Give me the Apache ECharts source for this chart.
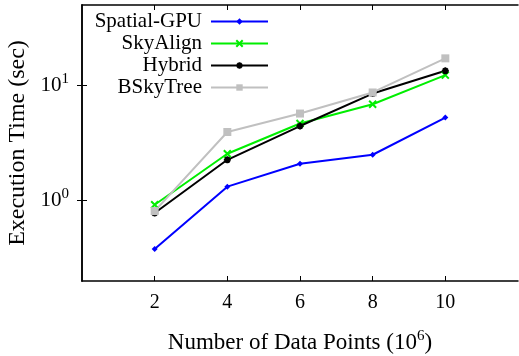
<!DOCTYPE html>
<html>
<head>
<meta charset="utf-8">
<script src="https://cdn.jsdelivr.net/npm/echarts@6/dist/echarts.min.js"></script>
<style>
  html, body { margin: 0; padding: 0; background: #fff; }
  #chart { width: 519px; height: 356px; }
</style>
</head>
<body>
<div id="chart"></div>
<script>
// data points (x in 10^6)
const xPoints = [2, 4, 6, 8, 10];
const spatialGpu = [0.38, 1.32, 2.09, 2.5, 5.26];
const skyAlign = [0.92, 2.55, 4.67, 6.87, 12.3];
const hybrid = [0.78, 2.26, 4.44, 8.5, 13.4];
const bSkyTree = [0.81, 3.94, 5.7, 8.69, 17.2];
const xTicks = [2, 4, 6, 8, 10];
const yTicks = [1, 10];

const FONT = 'Liberation Serif';

const chart = echarts.init(document.getElementById('chart'));

const pair = (ys) => xPoints.map((x, i) => [x, ys[i]]);

const lineSeries = (name, data, color, symbol, size, stroke) => ({
  name: name,
  type: 'line',
  data: pair(data),
  symbol: symbol,
  symbolSize: size,
  showAllSymbol: true,
  lineStyle: { color: color, width: 2 },
  itemStyle: { color: color, borderColor: color, borderWidth: stroke },
  emphasis: { disabled: true },
  z: 3,
});

const legendAt = (name, top) => ({
  data: [name],
  right: 245,
  top: top,
  orient: 'vertical',
  align: 'right',
  itemWidth: 57,
  itemHeight: 8,
  textStyle: { fontFamily: FONT, fontSize: 21, color: '#000', padding: [0, 4, 0, 0] },
  selectedMode: false,
});

const yLabel = (v) => {
  const e = Math.round(Math.log10(v));
  if (Math.abs(v - Math.pow(10, e)) > 1e-6) return '';
  return '{b|10}{s|' + e + '}';
};

const frameX = {
  type: 'value',
  min: 0,
  max: 12,
  interval: 2,
  axisLine: { show: true, onZero: false, lineStyle: { color: '#000', width: 1.5 } },
  axisTick: { show: true, inside: true, length: 5, lineStyle: { color: '#000', width: 1 } },
  splitLine: { show: false },
};

const frameY = {
  type: 'log',
  logBase: 10,
  min: 0.2,
  max: 50,
  axisLine: { show: true, lineStyle: { color: '#000', width: 1.5 } },
  axisTick: { show: true, inside: true, length: 5, customValues: yTicks, lineStyle: { color: '#000', width: 1 } },
  splitLine: { show: false },
};

chart.setOption({
  animation: false,
  textStyle: { fontFamily: FONT },
  grid: { left: 82, right: 1, top: 5, bottom: 75, containLabel: false, outerBoundsMode: 'none' },
  legend: [
    legendAt('Spatial-GPU', 6),
    legendAt('SkyAlign', 28),
    legendAt('Hybrid', 50),
    legendAt('BSkyTree', 72),
  ],
  xAxis: [
    Object.assign({}, frameX, {
      position: 'bottom',
      name: 'Number of Data Points (10{s|6})',
      nameLocation: 'middle',
      nameGap: 48,
      nameTextStyle: {
        fontFamily: FONT, fontSize: 23, color: '#000',
        rich: { s: { fontFamily: FONT, fontSize: 15, color: '#000', padding: [0, 0, 12, 0] } },
      },
      axisTick: Object.assign({}, frameX.axisTick, { customValues: xTicks }),
      axisLabel: {
        customValues: xTicks,
        margin: 12,
        fontFamily: FONT, fontSize: 20, color: '#000',
      },
    }),
    Object.assign({}, frameX, {
      position: 'top',
      axisTick: Object.assign({}, frameX.axisTick, { customValues: xTicks }),
      axisLabel: { show: false },
    }),
  ],
  yAxis: [
    Object.assign({}, frameY, {
      position: 'left',
      name: 'Execution Time (sec)',
      nameLocation: 'middle',
      nameRotate: 90,
      nameGap: 52,
      nameTextStyle: { fontFamily: FONT, fontSize: 24, color: '#000' },
      axisLabel: {
        customValues: yTicks,
        margin: 13,
        formatter: yLabel,
        rich: {
          b: { fontFamily: FONT, fontSize: 21, color: '#000' },
          s: { fontFamily: FONT, fontSize: 15, color: '#000', padding: [0, 0, 12, 0] },
        },
      },
    }),
    Object.assign({}, frameY, {
      position: 'right',
      axisLabel: { show: false },
    }),
  ],
  series: [
    lineSeries('Spatial-GPU', spatialGpu, '#0000ff', 'diamond', 6, 0),
    lineSeries('SkyAlign', skyAlign, '#00ee00', 'path://M0,0L10,10M10,0L0,10', 7, 2),
    lineSeries('Hybrid', hybrid, '#000000', 'path://M0,5L10,5M5,0L5,10M1.5,1.5L8.5,8.5M8.5,1.5L1.5,8.5', 7, 2),
    lineSeries('BSkyTree', bSkyTree, '#c0c0c0', 'rect', 8, 0),
  ],
});
</script>
</body>
</html>
